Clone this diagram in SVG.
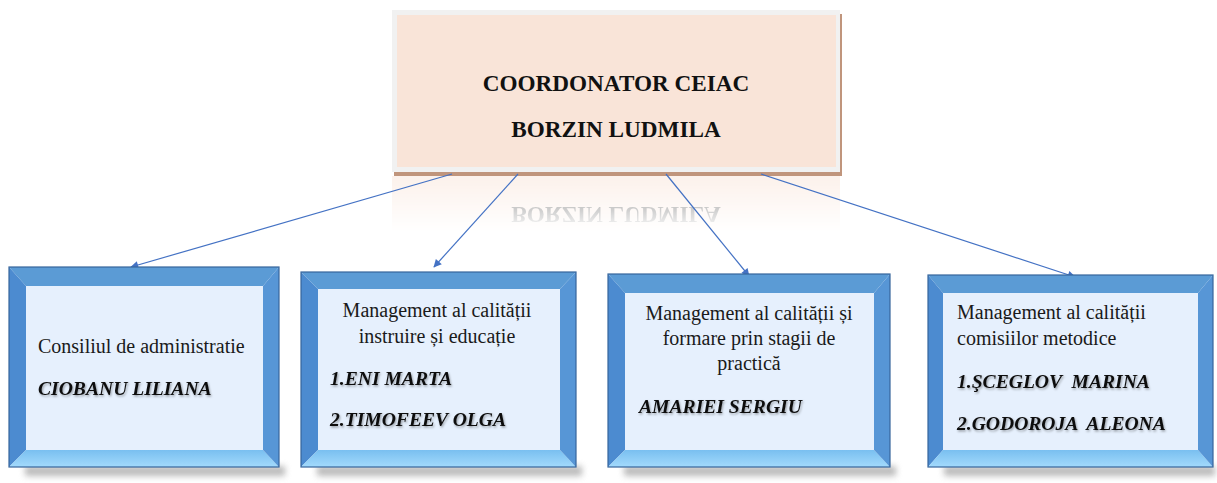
<svg xmlns="http://www.w3.org/2000/svg" width="1217" height="483" viewBox="0 0 1217 483">
<style>
.t{font-family:"Liberation Serif","Times New Roman",serif;font-size:20px;fill:#1a1a1a}
.n{font-family:"Liberation Serif","Times New Roman",serif;font-size:19.6px;font-weight:bold;font-style:italic;fill:#111}
.h{font-family:"Liberation Serif","Times New Roman",serif;font-size:23.2px;font-weight:bold;fill:#111}
.conn{stroke:#4472c4;stroke-width:1.2;fill:none}
.bt{fill:#5b9bd5}
.bl{fill:#4c8bd0}
.bb{fill:url(#gb)}
.br{fill:#5796d6}
.in{fill:#e6f0fd}
.ol{fill:none;stroke:#36659c;stroke-width:1.2}
</style>
<defs>
<marker id="ah" viewBox="0 0 10 10" refX="9" refY="5" markerWidth="10" markerHeight="8" markerUnits="userSpaceOnUse" orient="auto">
<path d="M0,0 L10,5 L0,10 z" fill="#4472c4"/>
</marker>
<linearGradient id="gb" x1="0" y1="0" x2="0" y2="1">
<stop offset="0" stop-color="#79bff0"/>
<stop offset="1" stop-color="#a3dafc"/>
</linearGradient>
<linearGradient id="fade" x1="0" y1="0" x2="0" y2="1">
<stop offset="0" stop-color="#fff" stop-opacity="0.55"/>
<stop offset="1" stop-color="#fff" stop-opacity="0"/>
</linearGradient>
<mask id="rm" maskUnits="userSpaceOnUse" x="380" y="172" width="480" height="60">
<rect x="380" y="172" width="480" height="60" fill="url(#fade)"/>
</mask>
<filter id="blur" x="-10%" y="-100%" width="120%" height="300%"><feGaussianBlur stdDeviation="3"/></filter>
<filter id="ts" x="-5%" y="-20%" width="110%" height="150%"><feDropShadow dx="1" dy="1.5" stdDeviation="1" flood-color="#000" flood-opacity="0.35"/></filter>
</defs>

<g id="top">
<rect x="394" y="14" width="448" height="162" fill="#c0957c"/>
<rect x="392" y="10" width="448" height="162" fill="#f1f1f1"/>
<rect x="397" y="15" width="439" height="152" fill="#f9e4d8"/>
<text class="h" x="616" y="91" text-anchor="middle">COORDONATOR CEIAC</text>
<text class="h" x="616" y="137" text-anchor="middle">BORZIN LUDMILA</text>
<g mask="url(#rm)">
<rect x="392" y="176" width="448" height="60" fill="#f9e4d8"/>
<text class="h" x="616" y="-207" text-anchor="middle" transform="scale(1,-1)" fill="#777">BORZIN LUDMILA</text>
</g>
</g>

<g id="connectors">
<line class="conn" x1="452" y1="174" x2="131" y2="267" marker-end="url(#ah)"/>
<line class="conn" x1="518" y1="174" x2="434" y2="267" marker-end="url(#ah)"/>
<line class="conn" x1="666" y1="174" x2="749" y2="276" marker-end="url(#ah)"/>
<line class="conn" x1="761" y1="174" x2="1075" y2="277" marker-end="url(#ah)"/>
</g>

<g id="box1">
<rect x="25" y="466" width="260" height="10" fill="#8c8c8c" opacity="0.6" filter="url(#blur)"/>
<polygon class="bt" points="9,267 279,267 263,286 26,286"/>
<polygon class="bl" points="9,267 26,286 26,450 9,467"/>
<polygon class="bb" points="9,467 26,450 263,450 279,467"/>
<polygon class="br" points="279,267 279,467 263,450 263,286"/>
<rect class="in" x="26" y="286" width="237" height="164"/>
<rect class="ol" x="9" y="267" width="270" height="200"/>
<text class="t" x="38" y="353">Consiliul de administratie</text>
<text class="n" x="38" y="395" filter="url(#ts)">CIOBANU LILIANA</text>
</g>

<g id="box2">
<rect x="317" y="466" width="265" height="10" fill="#8c8c8c" opacity="0.6" filter="url(#blur)"/>
<polygon class="bt" points="301,272 576,272 560,289 318,289"/>
<polygon class="bl" points="301,272 318,289 318,450 301,467"/>
<polygon class="bb" points="301,467 318,450 560,450 576,467"/>
<polygon class="br" points="576,272 576,467 560,450 560,289"/>
<rect class="in" x="318" y="289" width="242" height="161"/>
<rect class="ol" x="301" y="272" width="275" height="195"/>
<text class="t" x="437" y="317" text-anchor="middle">Management al calității</text>
<text class="t" x="437" y="343" text-anchor="middle">instruire și educație</text>
<text class="n" x="330" y="385" filter="url(#ts)">1.ENI MARTA</text>
<text class="n" x="330" y="426" filter="url(#ts)">2.TIMOFEEV OLGA</text>
</g>

<g id="box3">
<rect x="624" y="466" width="272" height="10" fill="#8c8c8c" opacity="0.6" filter="url(#blur)"/>
<polygon class="bt" points="608,274 890,274 874,293 625,293"/>
<polygon class="bl" points="608,274 625,293 625,450 608,467"/>
<polygon class="bb" points="608,467 625,450 874,450 890,467"/>
<polygon class="br" points="890,274 890,467 874,450 874,293"/>
<rect class="in" x="625" y="293" width="249" height="157"/>
<rect class="ol" x="608" y="274" width="282" height="193"/>
<text class="t" x="749" y="320" text-anchor="middle">Management al calității și</text>
<text class="t" x="749" y="345" text-anchor="middle">formare prin stagii de</text>
<text class="t" x="749" y="370" text-anchor="middle">practică</text>
<text class="n" x="639" y="413" filter="url(#ts)">AMARIEI SERGIU</text>
</g>

<g id="box4">
<rect x="944" y="466" width="271" height="10" fill="#8c8c8c" opacity="0.6" filter="url(#blur)"/>
<polygon class="bt" points="928,275 1213,275 1198,293 943,293"/>
<polygon class="bl" points="928,275 943,293 943,450 928,467"/>
<polygon class="bb" points="928,467 943,450 1198,450 1213,467"/>
<polygon class="br" points="1213,275 1213,467 1198,450 1198,293"/>
<rect class="in" x="943" y="293" width="255" height="157"/>
<rect class="ol" x="928" y="275" width="285" height="192"/>
<text class="t" x="957" y="319">Management al calității</text>
<text class="t" x="957" y="345">comisiilor metodice</text>
<text class="n" x="957" y="388" filter="url(#ts)" xml:space="preserve">1.ŞCEGLOV  MARINA</text>
<text class="n" x="957" y="430" filter="url(#ts)" xml:space="preserve">2.GODOROJA  ALEONA</text>
</g>
</svg>
